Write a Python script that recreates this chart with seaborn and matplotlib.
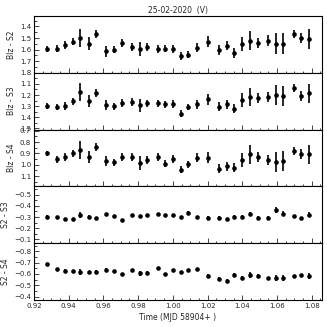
import numpy as np
import pandas as pd
import seaborn as sns
import matplotlib.pyplot as plt
from matplotlib.ticker import MultipleLocator, FixedLocator

sns.set_theme(style='ticks')
plt.rcParams['font.family'] = ['DejaVu Sans']

# time (MJD 58904+)
t = [0.9275, 0.9335, 0.9379, 0.9423, 0.9467, 0.9514, 0.9557, 0.9617, 0.9661, 0.9706,
     0.9763, 0.9808, 0.9852, 0.9912, 0.9956, 1.0002, 1.0046, 1.0090, 1.0137, 1.0204,
     1.0264, 1.0310, 1.0354, 1.0400, 1.0444, 1.0489, 1.0548, 1.0592, 1.0636, 1.0696,
     1.0740, 1.0784]

blz_s2 = [1.594, 1.594, 1.559, 1.530, 1.498, 1.550, 1.467, 1.615, 1.600, 1.542,
          1.577, 1.594, 1.580, 1.594, 1.594, 1.594, 1.658, 1.646, 1.583, 1.530,
          1.603, 1.565, 1.629, 1.550, 1.522, 1.542, 1.522, 1.550, 1.550, 1.463,
          1.502, 1.507]
blz_s3 = [1.300, 1.306, 1.300, 1.255, 1.170, 1.252, 1.185, 1.291, 1.300, 1.270,
          1.264, 1.291, 1.275, 1.275, 1.282, 1.282, 1.366, 1.306, 1.282, 1.239,
          1.306, 1.282, 1.321, 1.245, 1.215, 1.230, 1.215, 1.200, 1.209, 1.140,
          1.209, 1.185]
blz_s4 = [0.900, 0.953, 0.933, 0.900, 0.871, 0.933, 0.841, 0.968, 0.977, 0.929,
          0.929, 0.982, 0.959, 0.929, 0.991, 0.953, 1.042, 0.997, 0.938, 0.938,
          1.035, 1.012, 1.027, 0.959, 0.909, 0.933, 0.959, 0.977, 0.968, 0.880,
          0.903, 0.909]
s2_s3 = [-0.303, -0.297, -0.279, -0.279, -0.318, -0.303, -0.288, -0.325, -0.309, -0.273,
         -0.315, -0.309, -0.315, -0.325, -0.315, -0.315, -0.297, -0.339, -0.297, -0.294,
         -0.294, -0.282, -0.303, -0.303, -0.325, -0.294, -0.294, -0.364, -0.330, -0.309,
         -0.288, -0.321]
s2_s4 = [-0.688, -0.641, -0.626, -0.626, -0.620, -0.615, -0.620, -0.635, -0.626, -0.600,
         -0.635, -0.606, -0.611, -0.650, -0.600, -0.635, -0.615, -0.635, -0.641, -0.585,
         -0.556, -0.541, -0.591, -0.568, -0.589, -0.585, -0.562, -0.562, -0.562, -0.582,
         -0.591, -0.585]

err_blz = [0.025, 0.03, 0.035, 0.03, 0.08, 0.055, 0.035, 0.045, 0.03, 0.035,
           0.035, 0.06, 0.035, 0.035, 0.03, 0.035, 0.035, 0.03, 0.04, 0.048,
           0.04, 0.04, 0.04, 0.06, 0.08, 0.045, 0.045, 0.09, 0.09, 0.035,
           0.045, 0.087]
err_s2s3 = [0.012, 0.012, 0.012, 0.012, 0.025, 0.015, 0.012, 0.015, 0.012, 0.012,
            0.012, 0.012, 0.012, 0.012, 0.012, 0.012, 0.012, 0.015, 0.012, 0.012,
            0.012, 0.012, 0.012, 0.012, 0.02, 0.012, 0.012, 0.025, 0.02, 0.012,
            0.012, 0.02]
err_s2s4 = [0.012, 0.012, 0.015, 0.012, 0.025, 0.015, 0.012, 0.015, 0.012, 0.012,
            0.012, 0.02, 0.012, 0.012, 0.012, 0.012, 0.012, 0.012, 0.012, 0.012,
            0.02, 0.012, 0.015, 0.012, 0.025, 0.015, 0.012, 0.025, 0.025, 0.012,
            0.012, 0.025]

panels = [
    ('Blz - S2', blz_s2, err_blz, (1.8, 1.31), [1.4, 1.5, 1.6, 1.7, 1.8]),
    ('Blz - S3', blz_s3, err_blz, (1.51, 1.0), [1.1, 1.2, 1.3, 1.4, 1.5]),
    ('Blz - S4', blz_s4, err_blz, (1.19, 0.69), [0.7, 0.8, 0.9, 1.0, 1.1]),
    ('S2 - S3', s2_s3, err_s2s3, (-0.065, -0.577), [-0.5, -0.4, -0.3, -0.2, -0.1]),
    ('S2 - S4', s2_s4, err_s2s4, (-0.372, -0.872), [-0.8, -0.7, -0.6, -0.5, -0.4]),
]

fig, axes = plt.subplots(5, 1, figsize=(3.27, 3.27), dpi=100, sharex=True)
fig.subplots_adjust(left=0.104, right=0.985, top=0.951, bottom=0.083, hspace=0)

for ax, (label, vals, errs, ylim, yt) in zip(axes, panels):
    df = pd.DataFrame({'t': t, 'v': vals, 'e': errs})
    ax.errorbar(df['t'], df['v'], yerr=df['e'], fmt='none', ecolor='black',
                elinewidth=1.2, capsize=0, zorder=2)
    sns.scatterplot(data=df, x='t', y='v', ax=ax, color='black', s=11,
                    edgecolor='black', linewidth=0, zorder=3)
    ax.set_ylim(*ylim)
    ax.yaxis.set_major_locator(FixedLocator(yt))
    ax.yaxis.set_minor_locator(MultipleLocator(0.05))
    ax.set_ylabel(label, fontsize=5.5, labelpad=3)
    ax.set_xlabel('')
    ax.tick_params(which='both', direction='in', labelsize=5, width=0.6,
                   bottom=True, left=True, top=False, right=False, pad=2)
    ax.tick_params(which='major', length=3.5)
    ax.tick_params(which='minor', length=1.8)
    for sp in ax.spines.values():
        sp.set_linewidth(0.8)
        sp.set_color('black')

ax = axes[-1]
ax.set_xlim(0.92, 1.086)
ax.xaxis.set_major_locator(MultipleLocator(0.02))
ax.xaxis.set_minor_locator(MultipleLocator(0.005))
ax.set_xticklabels([f'{x:.2f}' for x in ax.get_xticks()])
ax.set_xlabel('Time (MJD 58904+ )', fontsize=5.5, labelpad=3)
axes[0].set_title('25-02-2020  (V)', fontsize=5.5, pad=2.5)

fig.savefig('out.png', dpi=100)
